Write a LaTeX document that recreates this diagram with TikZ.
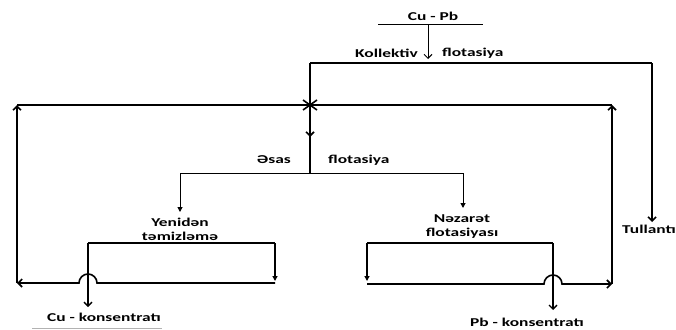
\documentclass[tikz,border=0pt]{standalone}
\usepackage{fontspec}
\setmainfont{Carlito}
\usetikzlibrary{arrows.meta}
\newcommand{\wtxt}[1]{\scalebox{1.45}[1]{#1}}
\tikzset{
  mainline/.style={line width=1.6pt},
  boxline/.style={line width=1.3pt},
  branch/.style={line width=1pt},
  barb/.style={-{Straight Barb[length=4pt,width=8pt]}},
  tipsmall/.style={-{Triangle[length=5pt,width=5pt]}},
  lbl/.style={font=\bfseries\fontsize{12}{13}\selectfont, inner sep=0pt},
}

\begin{document}
\begin{tikzpicture}[x=1pt,y=-1pt]
  \useasboundingbox (0,0) rectangle (676,329);

  % texts
  \node[lbl] (cupb) at (433,16) {\wtxt{Cu - Pb}};
  \node[lbl,anchor=east] (kol) at (418,53) {\wtxt{Kollektiv}};
  \node[lbl,anchor=west] (flotA) at (442,53) {\wtxt{flotasiya}};
  \node[lbl,anchor=east] (esas) at (291,160) {\wtxt{Əsas}};
  \node[lbl,anchor=west] (flotB) at (328,160) {\wtxt{flotasiya}};
  \node[lbl] (yen) at (180,222) {\wtxt{Yenidən}};
  \node[lbl] (tem) at (180,236) {\wtxt{təmizləmə}};
  \node[lbl] (nez) at (462,219) {\wtxt{Nəzarət}};
  \node[lbl] (flotC) at (462,233) {\wtxt{flotasiyası}};
  \node[lbl,anchor=west] (tul) at (622,229) {\wtxt{Tullantı}};
  \node[lbl] (cukon) at (104,317) {\wtxt{Cu - konsentratı}};
  \node[lbl] (pbkon) at (527,322) {\wtxt{Pb - konsentratı}};

  % points
  \coordinate (feedL) at (378,25);
  \coordinate (feedR) at (483,25);
  \coordinate (feedM) at (428,25);
  \coordinate (feedE) at (428,59);
  \coordinate (topL) at (310,63);
  \coordinate (topR) at (652,63);
  \coordinate (tulE) at (652,222);
  \coordinate (jn) at (310,105);
  \coordinate (midA) at (310,137);
  \coordinate (split) at (310,173);
  \coordinate (splL) at (180,173);
  \coordinate (splR) at (463,173);
  \coordinate (retL) at (17,105);
  \coordinate (retR) at (612,105);
  \coordinate (botL) at (17,283);
  \coordinate (botR) at (612,284);
  % left box
  \coordinate (lbA) at (88,243);
  \coordinate (lbB) at (275,243);
  \coordinate (lbC) at (275,281);
  \coordinate (lbD) at (275,283);
  \coordinate (lbE) at (88,307);
  % right box
  \coordinate (rbA) at (367,243);
  \coordinate (rbB) at (553,243);
  \coordinate (rbC) at (367,281);
  \coordinate (rbD) at (367,284);
  \coordinate (rbE) at (553,310);

  % feed
  \draw[branch] (feedL) -- (feedR);
  \draw[branch,barb] (feedM) -- (feedE);
  \draw[mainline] (topL) -- (topR);
  \draw[mainline,barb] (topR) -- (tulE);

  % main flotation column
  \draw[mainline] (topL) -- (split);
  \draw[mainline,barb] (jn) -- (midA);
  \draw[mainline] (retL) -- (retR);
  \draw[mainline] (jn) +(-7,-5) -- +(7,5);
  \draw[mainline] (jn) +(-7,5) -- +(7,-5);

  % split
  \draw[branch] (splL) -- (splR);
  \draw[branch,tipsmall] (splL) -- (180,212);
  \draw[branch,tipsmall] (splR) -- (463,208);

  % left box (Cu)
  \draw[boxline] (lbA) -- (lbB);
  \draw[boxline,tipsmall] (lbB) -- (lbC);
  \draw[line width=2.4pt] (lbA) -- (88,278);
  \draw[boxline,barb] (88,278) -- (lbE);
  \draw[mainline,barb] (lbD) -- (97,283) arc [start angle=0, end angle=-180, radius=9] -- (botL);
  \draw[mainline,barb] (botL) -- (retL);
  \draw[gray!60,line width=1pt] (32,328) -- (162,328);

  % right box (Pb)
  \draw[boxline] (rbA) -- (rbB);
  \draw[boxline,tipsmall] (rbA) -- (rbC);
  \draw[line width=2.4pt] (rbB) -- (553,279);
  \draw[boxline,barb] (553,279) -- (rbE);
  \draw[mainline,barb] (rbD) -- (544,284) arc [start angle=180, end angle=360, radius=9] -- (botR);
  \draw[mainline,barb] (botR) -- (retR);
\end{tikzpicture}
\end{document}
